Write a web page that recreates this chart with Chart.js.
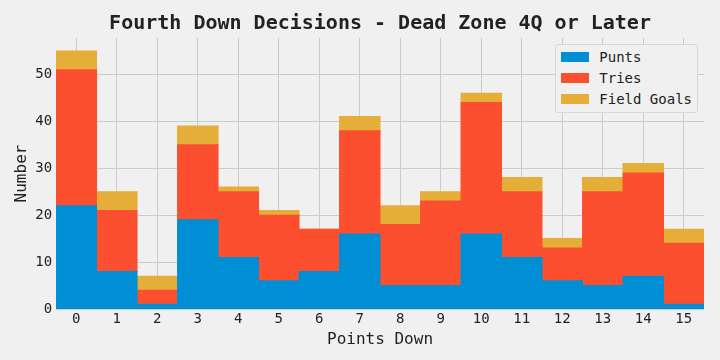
<!DOCTYPE html>
<html>
<head>
<meta charset="utf-8">
<script src="https://cdn.jsdelivr.net/npm/chart.js@4.4.0/dist/chart.umd.min.js"></script>
<style>
    html, body { margin: 0; padding: 0; background: #f0f0f0; }
    #wrap { position: relative; width: 720px; height: 360px; }
    #legend {
        position: absolute;
        box-sizing: border-box;
        padding: 1px 5px 3px 5px;
        background: #f0f0f0;
        border: 1px solid #d8d8d8;
        border-radius: 3px;
        font: 14px 'DejaVu Sans Mono', monospace;
        color: #222;
    }
    .legend-row { display: flex; align-items: center; height: 21px; white-space: nowrap; }
    .legend-swatch { width: 28px; height: 10px; margin-right: 10px; }
</style>
</head>
<body>
<div id="wrap">
    <canvas id="chart" width="720" height="360"></canvas>
    <div id="legend"></div>
</div>
<script>
// Datos
const pointsDown = ['0', '1', '2', '3', '4', '5', '6', '7', '8', '9', '10', '11', '12', '13', '14', '15'];
const punts      = [22, 8, 1, 19, 11, 6, 8, 16, 5, 5, 16, 11, 6, 5, 7, 1];
const tries      = [29, 13, 3, 16, 14, 14, 9, 22, 13, 18, 28, 14, 7, 20, 22, 13];
const fieldGoals = [4, 4, 3, 4, 1, 1, 0, 3, 4, 2, 2, 3, 2, 3, 2, 3];
const yTicks = [0, 10, 20, 30, 40, 50];
const yMax = 57.75;

const FONT = "'DejaVu Sans Mono', monospace";
const TEXT = '#222222';
const GRID = '#cbcbcb';

/**
 * Construye la leyenda en HTML a partir de los datasets y la coloca
 * en la esquina superior derecha del área del gráfico.
 */
const htmlLegend = {
    id: 'htmlLegend',
    afterUpdate(chart) {
        const box = document.getElementById('legend');
        box.innerHTML = '';
        chart.data.datasets.forEach(ds => {
            const row = document.createElement('div');
            row.className = 'legend-row';
            const sw = document.createElement('span');
            sw.className = 'legend-swatch';
            sw.style.background = ds.backgroundColor;
            const label = document.createElement('span');
            label.textContent = ds.label;
            row.appendChild(sw);
            row.appendChild(label);
            box.appendChild(row);
        });
        const area = chart.chartArea;
        box.style.right = (chart.width - area.right + 6) + 'px';
        box.style.top = (area.top + 6) + 'px';
    }
};

new Chart(document.getElementById('chart').getContext('2d'), {
    type: 'bar',
    data: {
        labels: pointsDown,
        datasets: [
            { label: 'Punts', data: punts, backgroundColor: '#008fd5' },
            { label: 'Tries', data: tries, backgroundColor: '#fc4f30' },
            { label: 'Field Goals', data: fieldGoals, backgroundColor: '#e5ae38' }
        ]
    },
    options: {
        responsive: false,
        animation: false,
        layout: { padding: { left: 12, right: 16, top: 0, bottom: 11 } },
        datasets: {
            bar: { barPercentage: 1, categoryPercentage: 1, borderWidth: 0, inflateAmount: 0.5 }
        },
        plugins: {
            legend: { display: false },
            tooltip: { enabled: false },
            title: {
                display: true,
                fullSize: false,
                text: 'Fourth Down Decisions - Dead Zone 4Q or Later',
                color: TEXT,
                font: { family: FONT, size: 20, weight: 'bold' },
                padding: { top: 12, bottom: 2 }
            }
        },
        scales: {
            x: {
                stacked: true,
                grid: { color: GRID, lineWidth: 1, offset: false, drawTicks: false },
                border: { display: false },
                ticks: { color: TEXT, font: { family: FONT, size: 14 }, padding: 2, maxRotation: 0 },
                title: { display: true, text: 'Points Down', color: TEXT, font: { family: FONT, size: 16 }, padding: { top: 0, bottom: 0 } }
            },
            y: {
                stacked: true,
                min: 0,
                max: yMax,
                afterBuildTicks: scale => { scale.ticks = yTicks.map(v => ({ value: v })); },
                grid: { color: GRID, lineWidth: 1, drawTicks: false },
                border: { display: false },
                ticks: { color: TEXT, font: { family: FONT, size: 14 }, padding: 4 },
                title: { display: true, text: 'Number', color: TEXT, font: { family: FONT, size: 16 }, padding: { top: 0, bottom: 0 } }
            }
        }
    },
    plugins: [htmlLegend]
});
</script>
</body>
</html>
